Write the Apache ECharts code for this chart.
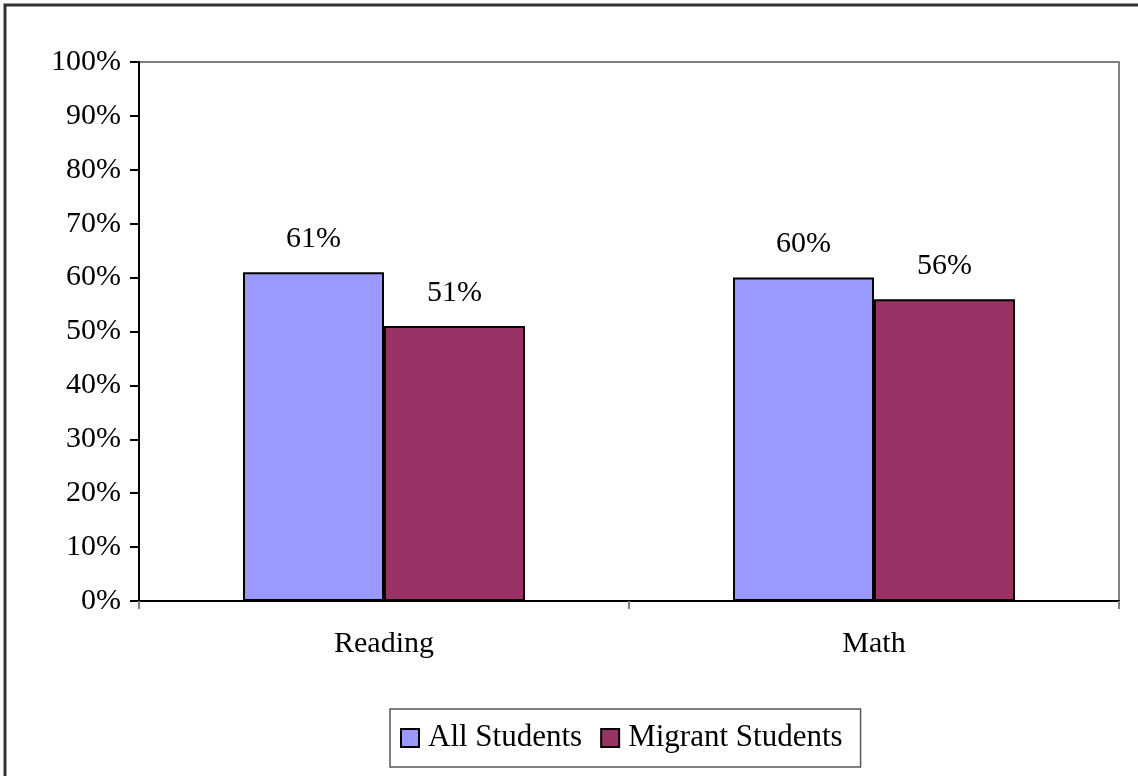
<!DOCTYPE html>
<html>
<head>
<meta charset="utf-8">
<script src="https://cdn.jsdelivr.net/npm/echarts@6/dist/echarts.min.js"></script>
<style>
  html, body { margin: 0; padding: 0; background: #fff; }
  #chart { width: 1138px; height: 776px; }
</style>
</head>
<body>
<div id="chart"></div>
<script>
var categories = ['Reading', 'Math'];
var allStudents = [61, 60];
var migrantStudents = [51, 56];
var seriesNames = ['All Students', 'Migrant Students'];

var font = '"Liberation Serif", "Times New Roman", serif';

var chart = echarts.init(document.getElementById('chart'));

var option = {
  animation: false,
  backgroundColor: '#fff',
  textStyle: { fontFamily: font },
  graphic: [{
    type: 'rect',
    shape: { x: 5, y: 5, width: 1300, height: 1000 },
    style: { fill: 'none', stroke: '#333', lineWidth: 3 },
    silent: true,
    z: 100
  }],
  grid: {
    left: 139, right: 19, top: 62, bottom: 175,
    show: true,
    borderColor: '#808080',
    borderWidth: 2,
    containLabel: false
  },
  legend: {
    data: seriesNames,
    left: 390,
    top: 709,
    padding: [13, 18, 13, 10],
    itemWidth: 18,
    itemHeight: 18,
    itemGap: 18,
    borderColor: '#555',
    borderWidth: 1.5,
    icon: 'rect',
    itemStyle: { borderColor: '#000', borderWidth: 2 },
    textStyle: { fontFamily: font, fontSize: 31, color: '#000', lineHeight: 32, padding: [0, 0, 0, 4] }
  },
  xAxis: {
    type: 'category',
    data: categories,
    axisLine: { lineStyle: { color: '#000', width: 2 } },
    axisTick: { show: true, alignWithLabel: false, length: 8, lineStyle: { color: '#808080', width: 2 } },
    axisLabel: { fontFamily: font, fontSize: 30, color: '#000', margin: 28 }
  },
  yAxis: {
    type: 'value',
    min: 0,
    max: 100,
    interval: 10,
    splitLine: { show: false },
    axisLine: { show: true, lineStyle: { color: '#000', width: 2 } },
    axisTick: { show: true, length: 9, lineStyle: { color: '#000', width: 2 } },
    axisLabel: { fontFamily: font, fontSize: 30, color: '#000', margin: 18, formatter: '{value}%' }
  },
  series: [{
    name: seriesNames[0],
    type: 'bar',
    data: allStudents,
    barWidth: 141,
    barGap: '0%',
    itemStyle: { color: '#9999FF', borderColor: '#000', borderWidth: 2 },
    label: { show: true, position: 'top', distance: 18, formatter: '{c}%', fontFamily: font, fontSize: 30, color: '#000' }
  }, {
    name: seriesNames[1],
    type: 'bar',
    data: migrantStudents,
    barWidth: 141,
    barGap: '0%',
    itemStyle: { color: '#993366', borderColor: '#000', borderWidth: 2 },
    label: { show: true, position: 'top', distance: 18, formatter: '{c}%', fontFamily: font, fontSize: 30, color: '#000' }
  }]
};

chart.setOption(option);
</script>
</body>
</html>
